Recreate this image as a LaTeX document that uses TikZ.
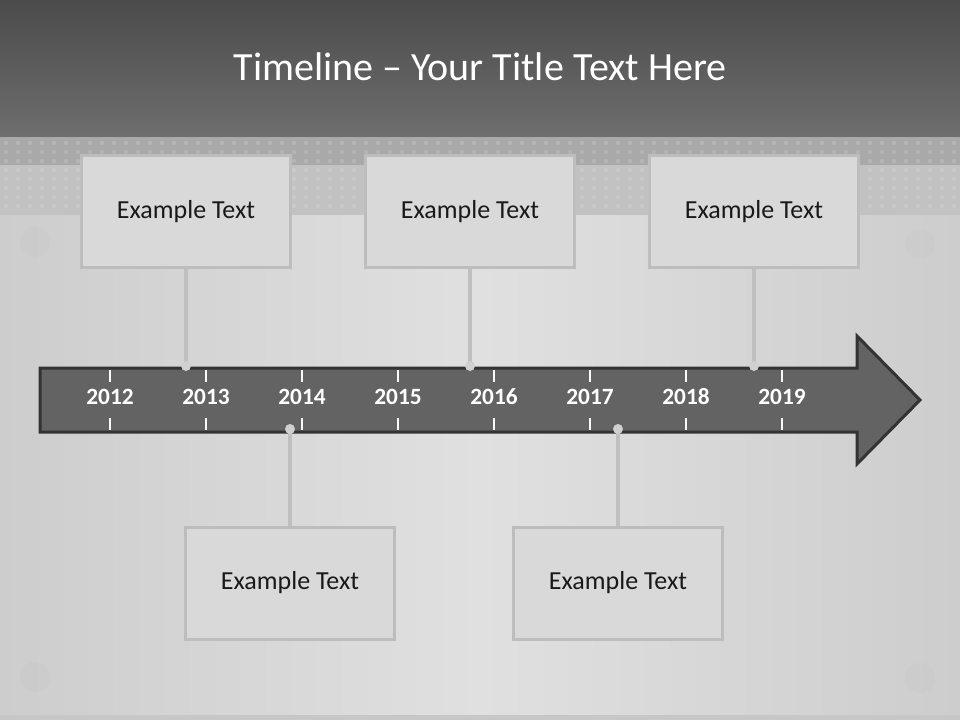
\documentclass[tikz,border=0pt]{standalone}
\usepackage{fontspec}
\setmainfont{Carlito}
\definecolor{barTop}{HTML}{4B4B4B}
\definecolor{barBot}{HTML}{6E6E6E}
\definecolor{bandDark}{HTML}{A9A9A9}
\definecolor{bandLight}{HTML}{C2C2C2}
\definecolor{bgSide}{HTML}{CDCDCD}
\definecolor{bgMid}{HTML}{E0E0E0}
\definecolor{boxFill}{HTML}{D9D9D9}
\definecolor{boxLine}{HTML}{BDBDBD}
\definecolor{stemGray}{HTML}{BFBFBF}
\definecolor{dotGray}{HTML}{D0D0D0}
\definecolor{screwGray}{HTML}{CACACA}
\definecolor{arrowFill}{HTML}{636363}
\definecolor{arrowLine}{HTML}{333333}
\begin{document}
\begin{tikzpicture}[x=0.75pt,y=-0.75pt,
			box/.style={draw=boxLine, line width=2.25pt, fill=boxFill, minimum width=157pt,
				minimum height=84pt, inner sep=0pt, text=black!90,
				font=\fontsize{19.5}{23}\selectfont},
			year/.style={text=white, font=\bfseries\fontsize{17.5}{20}\selectfont},
			tick/.style={white, line width=0.9pt},
			stem/.style={stemGray, line width=3pt},
			dot/.style={circle, fill=dotGray, minimum size=7.5pt, inner sep=0pt},
			screw/.style={fill=screwGray, draw=black!20, line width=0.6pt, opacity=0.6}]
			
			% background
			\useasboundingbox (0,0) rectangle (960,720);
			\shade[left color=bgSide, right color=bgSide, middle color=bgMid] (0,215) rectangle (960,720);
			\fill[black!22] (0,715) rectangle (960,720);
			\fill[bandDark] (0,137) rectangle (960,165);
			\fill[bandLight] (0,165) rectangle (960,215);
			\foreach \c in {0,...,79}
				\foreach \r in {0,...,7}
					\fill[white, opacity=0.14] (\c*12+6,143+\r*9) circle (1.6pt);
			\shade[top color=barTop, bottom color=barBot] (0,0) rectangle (960,137);
			\node[text=white, font=\fontsize{30}{36}\selectfont] (title) at (480,67) {Timeline -- Your Title Text Here};
			
			% screws
			\foreach \sx/\sy in {35/242, 920/244, 35/677, 920/678}
				\filldraw[screw] (\sx,\sy) circle (11pt);
			
			% arrow
			\draw[fill=arrowFill, draw=arrowLine, line width=2.25pt, line join=miter]
				(40,368) -- (857,368) -- (857,336) -- (920,400) -- (857,464) -- (857,432) -- (40,432) -- cycle;
			\foreach \yr [evaluate=\yr as \xx using 110+96*(\yr-2012)] in {2012,...,2019}{
				\draw[tick] (\xx,370) -- (\xx,382);
				\draw[tick] (\xx,418) -- (\xx,430);
				\node[year] (y\yr) at (\xx,397) {\yr};
			}
			
			% boxes above
			\node[box] (top1) at (186,212) {Example Text};
			\node[box] (top2) at (470,212) {Example Text};
			\node[box] (top3) at (754,212) {Example Text};
			% boxes below
			\node[box] (bot1) at (290,583) {Example Text};
			\node[box] (bot2) at (618,583) {Example Text};
			
			% stems and dots
			\coordinate (p1) at (186,366);
			\coordinate (p2) at (470,366);
			\coordinate (p3) at (754,366);
			\coordinate (p4) at (290,429);
			\coordinate (p5) at (618,429);
			\draw[stem] (top1.south) -- (p1);
			\draw[stem] (top2.south) -- (p2);
			\draw[stem] (top3.south) -- (p3);
			\draw[stem] (p4) -- (bot1.north);
			\draw[stem] (p5) -- (bot2.north);
			\foreach \p in {1,...,5}
				\node[dot] (d\p) at (p\p) {};
			\end{tikzpicture}
\end{document}
